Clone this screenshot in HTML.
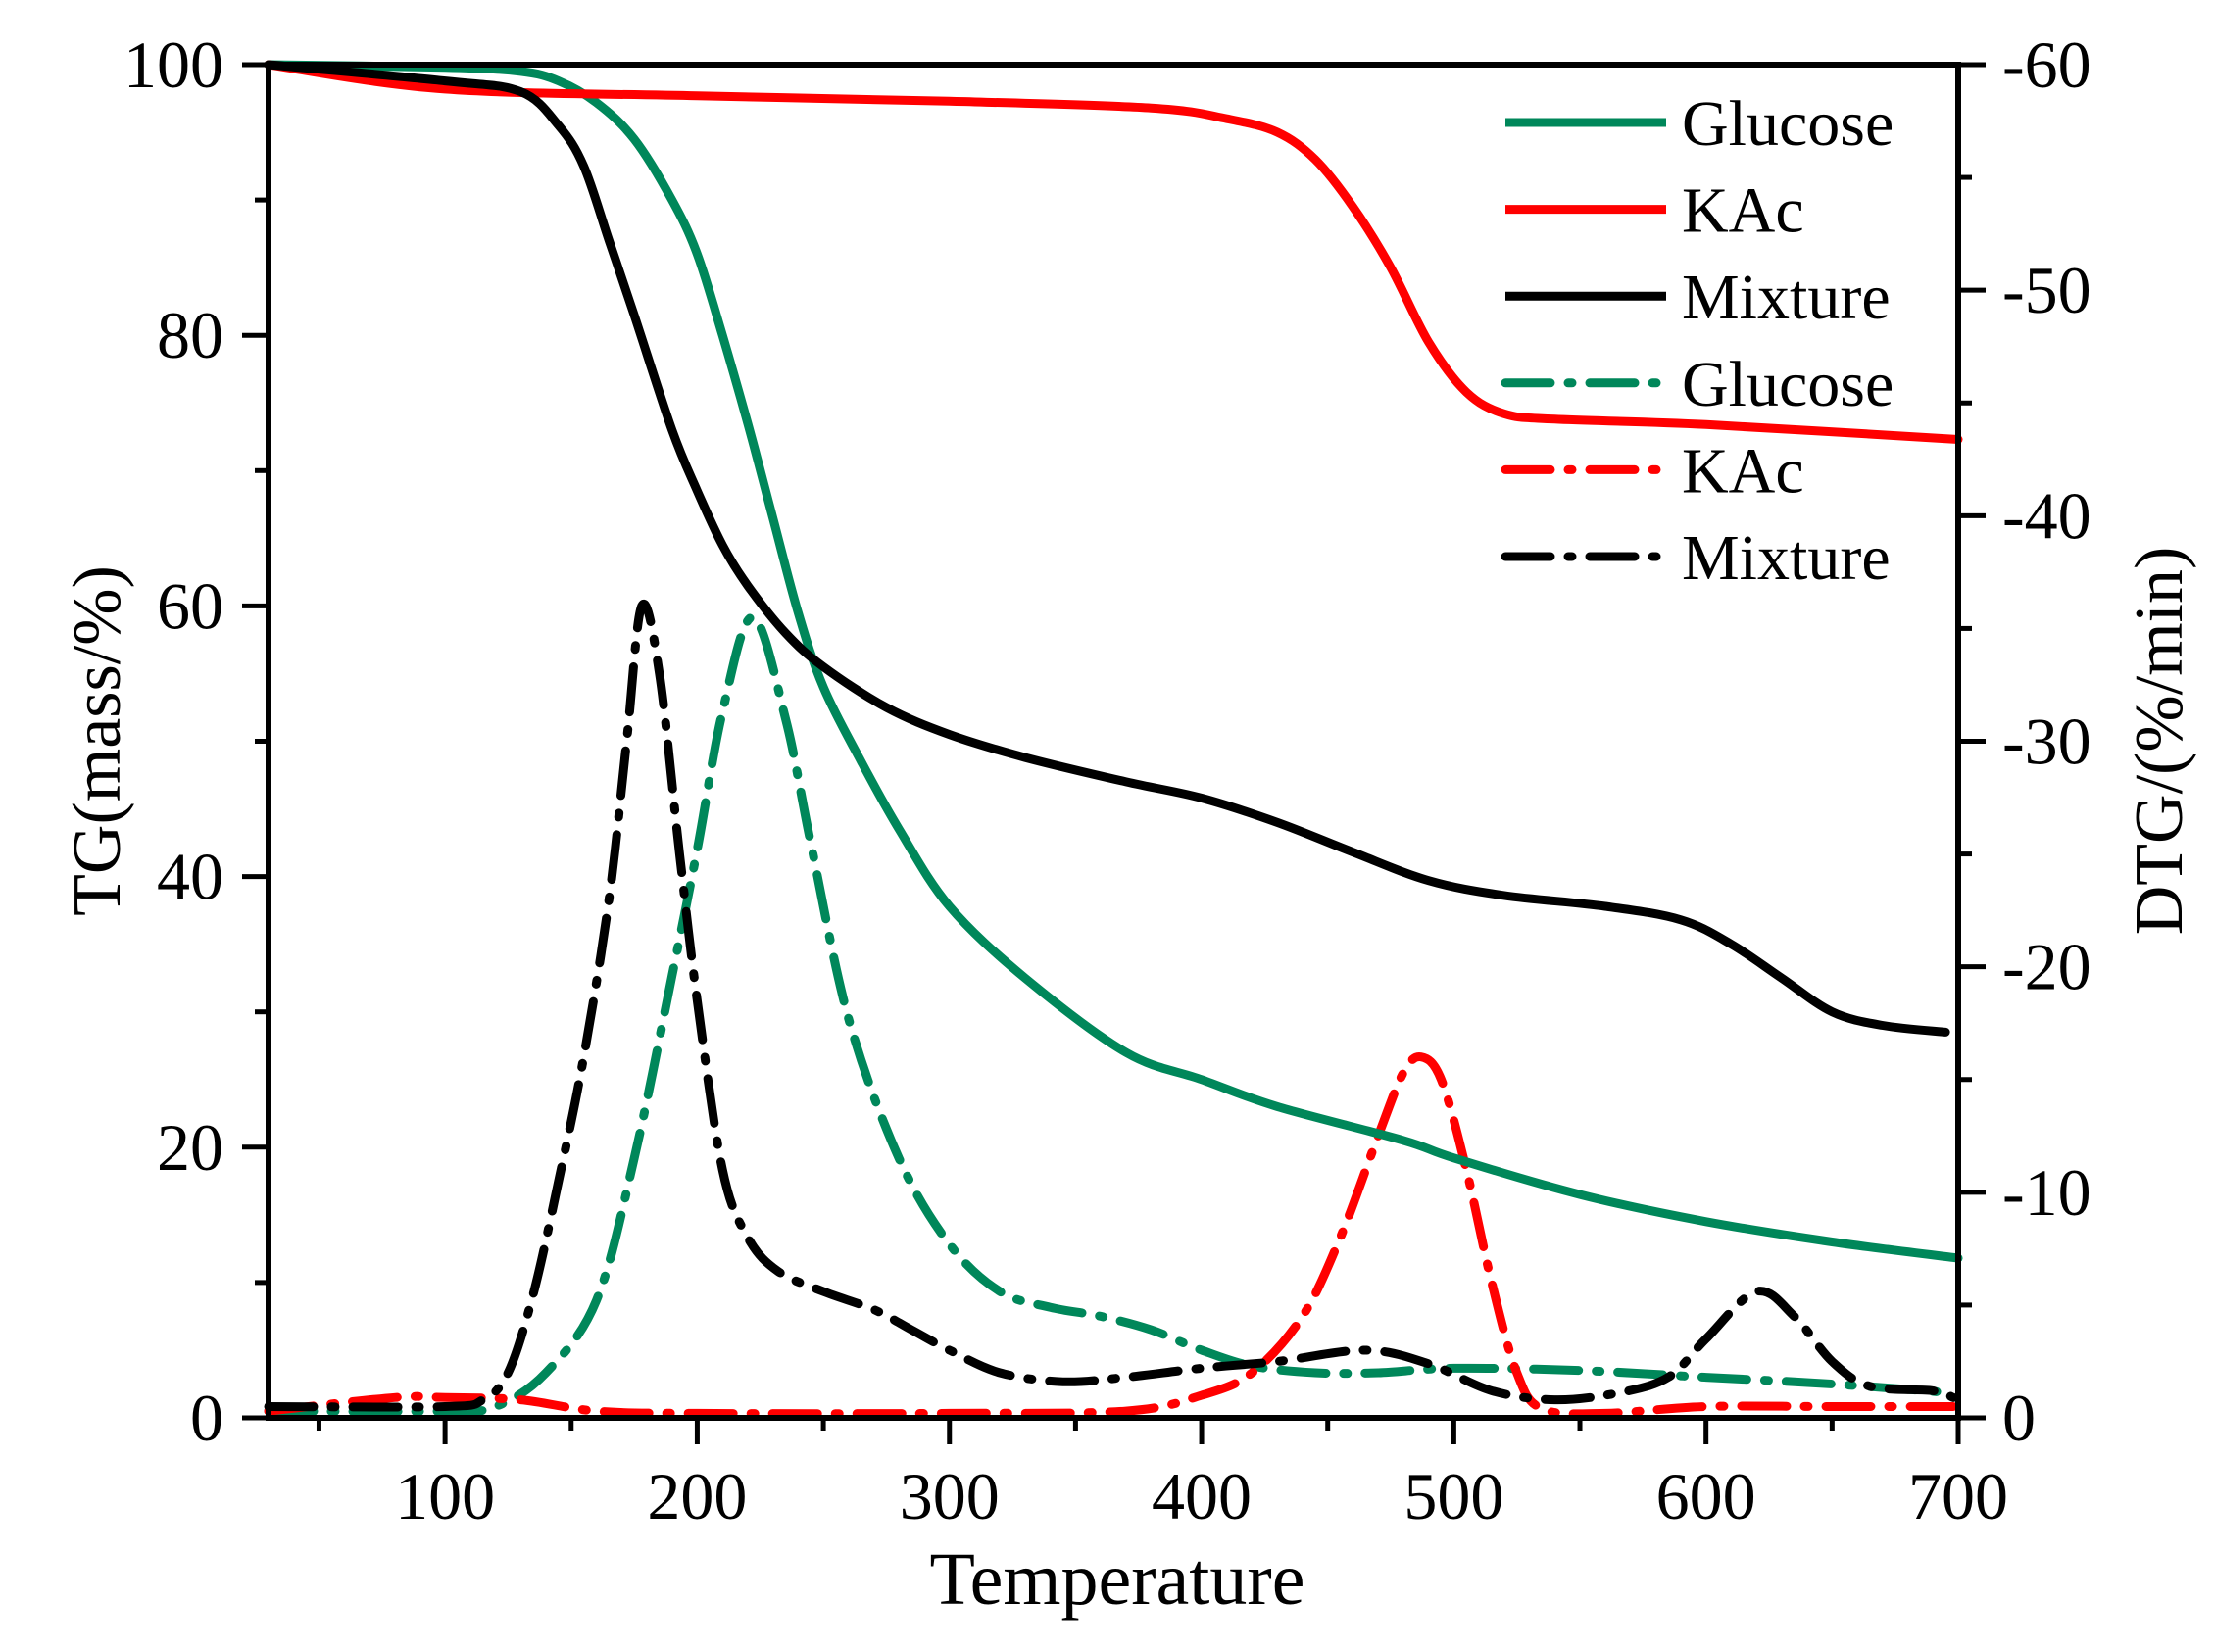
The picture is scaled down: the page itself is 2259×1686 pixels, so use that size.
<!DOCTYPE html>
<html><head><meta charset="utf-8"><style>
html,body{margin:0;padding:0;background:#fff}
svg{display:block}
text{font-family:"Liberation Serif",serif;fill:#000}
</style></head><body>
<svg id="s" width="2259" height="1686" viewBox="0 0 2259 1686" xmlns="http://www.w3.org/2000/svg">
<g id="curves" fill="none" stroke-linejoin="round" stroke-linecap="round"></g>
<g id="axes" stroke="#000" stroke-width="6" fill="none">
<rect x="274" y="66" width="1724" height="1381"/>
</g>
<g id="ticks" stroke="#000" stroke-width="5"></g>
<g id="labels" font-size="68"></g>
<text x="1140" y="1637" font-size="76" text-anchor="middle">Temperature</text>
<text transform="translate(122,756) rotate(-90)" font-size="70" text-anchor="middle">TG(mass/%)</text>
<text transform="translate(2226,756) rotate(-90)" font-size="70" text-anchor="middle">DTG/(%/min)</text>
<g id="legend" font-size="66"></g>
</svg>
<script>
const NS="http://www.w3.org/2000/svg";
function el(p,t,a,txt){const e=document.createElementNS(NS,t);for(const k in a)e.setAttribute(k,a[k]);if(txt!==undefined)e.textContent=txt;document.getElementById(p).appendChild(e);return e;}
const X=t=>274+(t-30)*1724/670;
const YL=v=>1447-v*13.81;
const YR=v=>1447-v*1381/60;
for(let v=0;v<=100;v+=10){const y=YL(v);const maj=v%20==0;el('ticks','line',{x1:274,x2:maj?247:260,y1:y,y2:y});if(maj)el('labels','text',{x:228,y:y+23,'text-anchor':'end'},String(v));}
for(let v=0;v<=60;v+=5){const y=YR(v);const maj=v%10==0;el('ticks','line',{x1:1998,x2:maj?2026:2012,y1:y,y2:y});if(maj)el('labels','text',{x:2043,y:y+23},v==0?'0':'-'+v);}
for(let t=50;t<=700;t+=50){const x=X(t);const maj=t%100==0;el('ticks','line',{x1:x,x2:x,y1:1447,y2:maj?1474:1460});if(maj)el('labels','text',{x:x,y:1550,'text-anchor':'middle'},String(t));}
function path(pts,fx){let p=pts.map(q=>[X(q[0]),fx(q[1])]);let d='M'+p[0][0]+','+p[0][1];for(let i=0;i<p.length-1;i++){const p0=p[i-1]||p[i],p1=p[i],p2=p[i+1],p3=p[i+2]||p2;const c1=[p1[0]+(p2[0]-p0[0])/6,p1[1]+(p2[1]-p0[1])/6],c2=[p2[0]-(p3[0]-p1[0])/6,p2[1]-(p3[1]-p1[1])/6];d+=`C${c1[0].toFixed(1)},${c1[1].toFixed(1)} ${c2[0].toFixed(1)},${c2[1].toFixed(1)} ${p2[0].toFixed(1)},${p2[1].toFixed(1)}`;}return d;}
const G='#00875a',R='#ff0000',K='#000000';
const gTG=[[30,100],[100,99.8],[130,99.5],[145,98.8],[160,97.2],[175,94.5],[190,90],[200,86],[210,80],[220,73.5],[230,66.5],[240,59.5],[250,54],[265,48.5],[280,43.5],[300,37.8],[330,32.5],[370,27],[400,25],[430,23],[480,20.5],[500,19.2],[550,16.5],[600,14.5],[650,13],[700,11.8]];
const kTG=[[30,100],[100,98.2],[200,97.7],[300,97.3],[380,96.8],[410,96],[430,95],[445,93],[460,89.5],[475,85],[490,79.5],[505,75.8],[520,74.2],[540,73.8],[600,73.4],[700,72.3]];
const mTG=[[30,100],[100,98.8],[130,98],[145,95.5],[155,92.5],[165,87],[175,81.5],[190,73],[200,68.5],[210,64.5],[220,61.5],[235,58],[250,55.5],[275,52.5],[300,50.5],[330,48.8],[370,47],[400,45.8],[430,44],[460,41.8],[490,39.7],[520,38.6],[560,37.8],[590,36.8],[610,35],[630,32.5],[650,30],[670,29],[695,28.5]];
const gD=[[30,0.3],[100,0.3],[120,0.5],[140,2],[160,5.2],[175,11.5],[190,19.6],[200,25.2],[210,31.3],[222,35.5],[235,31],[245,25.5],[260,17.7],[280,11.5],[300,7.7],[320,5.6],[340,4.9],[360,4.5],[380,3.9],[400,3],[420,2.3],[445,2],[470,2],[500,2.2],[550,2.1],[600,1.8],[650,1.5],[698,1.1]];
const kD=[[30,0.3],[80,0.9],[100,0.9],[130,0.8],[160,0.3],[200,0.2],[300,0.2],[370,0.3],[400,1],[420,2],[440,4.5],[455,8],[470,12.5],[480,15.3],[487,16],[495,15],[505,11],[515,6],[525,2],[535,0.4],[560,0.2],[600,0.5],[650,0.5],[698,0.5]];
const mD=[[30,0.5],[100,0.5],[115,0.8],[125,2],[135,5.5],[145,10.5],[155,16],[165,23],[172,30],[178,36],[185,33],[193,25],[200,18.5],[210,11],[220,8],[232,6.5],[250,5.6],[270,4.8],[285,3.9],[300,3],[320,2],[345,1.6],[370,1.8],[400,2.2],[430,2.5],[465,3],[490,2.4],[515,1.2],[540,0.8],[565,1.1],[585,1.8],[600,3.5],[620,5.6],[635,4.5],[650,2.5],[665,1.4],[690,1.2],[698,0.9]];
const dd='46 18 4 18';
el('curves','path',{d:path(gD,YR),stroke:G,'stroke-width':9,'stroke-dasharray':dd});
el('curves','path',{d:path(kD,YR),stroke:R,'stroke-width':9,'stroke-dasharray':dd});
el('curves','path',{d:path(mD,YR),stroke:K,'stroke-width':9,'stroke-dasharray':dd});
el('curves','path',{d:path(gTG,YL),stroke:G,'stroke-width':9});
el('curves','path',{d:path(kTG,YL),stroke:R,'stroke-width':9});
el('curves','path',{d:path(mTG,YL),stroke:K,'stroke-width':9});
const leg=[['Glucose',G,0],['KAc',R,0],['Mixture',K,0],['Glucose',G,1],['KAc',R,1],['Mixture',K,1]];
leg.forEach((l,i)=>{const y=125+i*88.6;const a={x1:1536,x2:1700,y1:y,y2:y,stroke:l[1],'stroke-width':9};if(l[2]){a['stroke-dasharray']=dd;a['stroke-linecap']='round';}el('legend','line',a);el('legend','text',{x:1716,y:y+23},l[0]);});
</script>
</body></html>
